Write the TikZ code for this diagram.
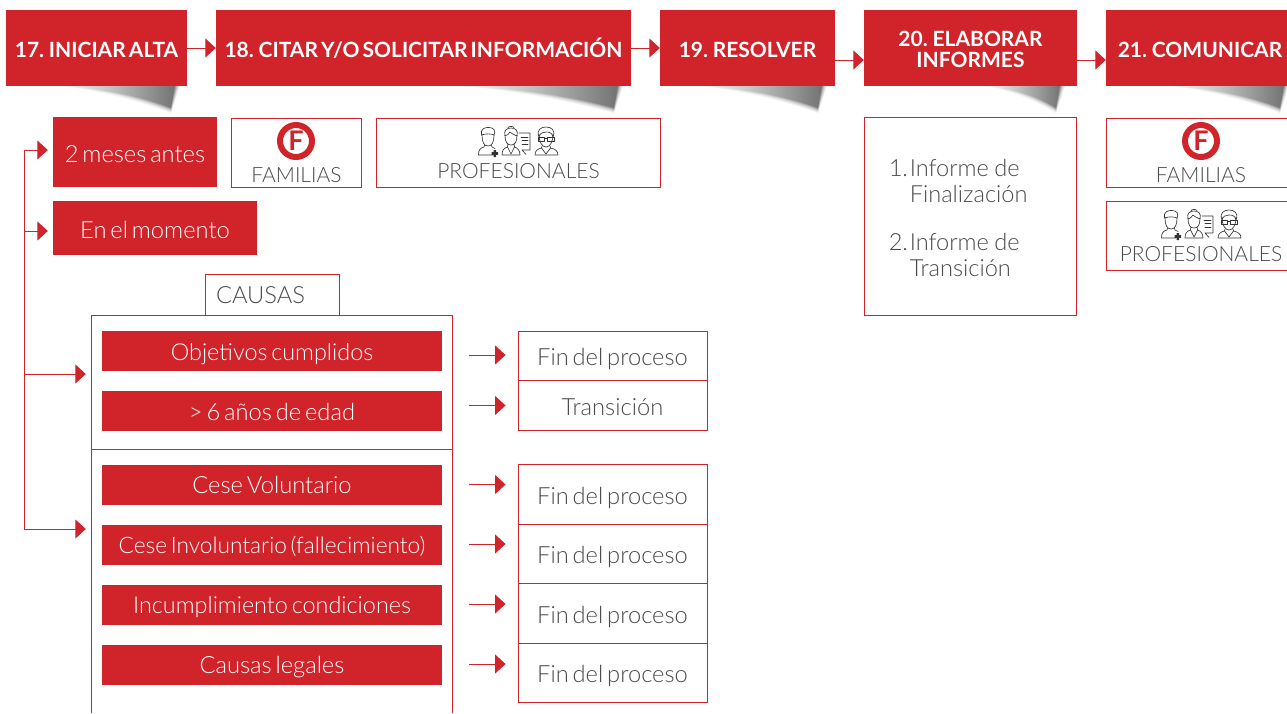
\documentclass[tikz,border=0pt]{standalone}
\usepackage{fontspec}
\setmainfont[WordSpace=0.6]{Lato}
\newfontfamily\lightf[WordSpace=0.6]{Lato Light}
\usetikzlibrary{arrows.meta}
\definecolor{rd}{HTML}{D1232A}
\definecolor{tx}{HTML}{4A4A4A}
\definecolor{ic}{HTML}{333333}
\newcommand\wedgeshadow[2]{%
  \foreach \e/\g/\m in {5/6/1,4/12/2,3/20/4,2/30/8,1/42/12,0/55/16}{%
    \shade[left color=white,middle color=black!\m,right color=black!\g]
      (#1,86) -- (#2+\e,86) -- (#2-4,108+\e)
      .. controls ({#2-0.35*(#2-#1)},{94+\e}) and ({#2-0.7*(#2-#1)},{88+0.5*\e}) .. (#1,86) -- cycle;}}
\newcommand\peopleicons[2]{%
 \begin{scope}[shift={(#1,#2)},draw=ic,line width=0.65pt,line join=round,line cap=round]
  % doctor with cross
  \draw (4,8) .. controls (4,15) and (6,19) .. (10,19) .. controls (14,19) and (16,15) .. (16,8);
  \draw (3.5,8) .. controls (2,2) and (7,0) .. (11,0.5) .. controls (16,0.5) and (18,4) .. (16,8) .. controls (13,6.5) and (8,6.5) .. (3.5,8);
  \draw (6.5,18) -- (6,20) .. controls (2,21) and (0.5,23) .. (0.5,28) -- (15,28);
  \draw (13.5,18) -- (14,20) -- (17,21.5);
  \fill[ic] (15.5,23) rectangle (18,30) (13.5,25.2) rectangle (20,27.8);
  % presenter with board
  \draw (27,8) .. controls (27,15) and (29,18) .. (33,18) .. controls (37,18) and (39,15) .. (39,8);
  \draw (27,9) .. controls (25.5,3) and (29,1) .. (33,1) .. controls (37,1) and (40.5,3) .. (39,9) .. controls (36,8) and (33,6) .. (32,5) .. controls (31,7) and (29,8.5) .. (27,9);
  \draw (30,0.8) .. controls (30,-1) and (36,-1) .. (36,0.8);
  \draw (30,17) -- (29.5,20) .. controls (26,21) and (24,23) .. (24,28) -- (42,28) .. controls (42,24) and (40,21) .. (36.5,20) -- (36,17);
  \draw (29.5,20) -- (33,27) -- (36.5,20);
  \draw (41,6) -- (52,6) -- (52,23) -- (44,23) (44,23) -- (48,27.5);
  \draw (43,10) -- (50,10) (44,13.5) -- (50,13.5) (44,17) -- (50,17);
  % man with glasses
  \draw (61,7) .. controls (61,15) and (64,20) .. (68,20) .. controls (72,20) and (75,15) .. (75,7);
  \draw (61,10) .. controls (58,3) and (63,0) .. (68,0) .. controls (73,0) and (78,3) .. (75,10) .. controls (74,6) and (72,5) .. (68,5) .. controls (65,5) and (62,6) .. (61,10);
  \draw (60,10.5) rectangle (66.5,14) (69.5,10.5) rectangle (76,14) (66.5,11.5) -- (69.5,11.5);
  \draw (64,19) -- (63.5,21) .. controls (59,22) and (57,24) .. (57,28) -- (80,28) .. controls (80,24) and (77,22) .. (72.5,21) -- (72,19);
  \draw (63.5,21) -- (68,27) -- (72.5,21);
 \end{scope}}
\begin{document}
\begin{tikzpicture}[x=1pt,y=-1pt,
 head/.style={fill=rd,text=white,font=\fontsize{21}{21}\selectfont\bfseries,align=center,inner sep=0pt,minimum height=76pt},
 oneline/.style={text height=19pt,text depth=0pt},
 redbox/.style={fill=rd,text=white,font=\lightf\fontsize{23.7}{26}\selectfont,inner sep=0pt,text height=20pt,text depth=2pt},
 wbox/.style={draw=rd,line width=0.9pt,fill=white,text=tx,font=\lightf\fontsize{23.7}{26}\selectfont,inner sep=0pt,text height=20pt,text depth=2pt},
 lowtext/.style={text height=20pt,text depth=0pt},
 lbl/.style={text=tx,font=\lightf\fontsize{21}{24}\selectfont,inner sep=0pt},
 famring/.style={circle,draw=rd,line width=6pt,minimum size=32pt,inner sep=0pt,text=rd,font=\fontsize{27}{27}\selectfont\bfseries},
 conn/.style={draw=rd,line width=1pt},
 arr/.style={draw=rd,line width=1pt,-{Triangle[length=10.5pt,width=19pt]}},
]
\useasboundingbox (0,0) rectangle (1287,713);
\clip (0,0) rectangle (1287,713);
% shadows
\wedgeshadow{60}{175}
\wedgeshadow{460}{618}
\wedgeshadow{700}{822}
\wedgeshadow{985}{1060}
\wedgeshadow{1170}{1284}
% header
\node[head,oneline,minimum width=181pt] (h17) at (96.5,48) {17. INICIAR ALTA};
\node[head,oneline,minimum width=415pt] (h18) at (423.5,48) {18. CITAR Y/O SOLICITAR INFORMACIÓN};
\node[head,oneline,minimum width=175pt] (h19) at (747.5,48) {19. RESOLVER};
\node[head,minimum width=213pt] (h20) at (970.5,48) {\rule{0pt}{17.2pt}20. ELABORAR\\INFORMES};
\node[head,oneline,minimum width=188pt] (h21) at (1200,48) {21. COMUNICAR};
\draw[arr] (h17) -- (h18);
\draw[arr] (h18) -- (h19);
\draw[arr] ([yshift=-12pt]h19.east) -- ([yshift=-12pt]h20.west);
\draw[arr] ([yshift=-12pt]h20.east) -- ([yshift=-12pt]h21.west);
% first row
\node[redbox,lowtext,minimum width=164pt,minimum height=70pt] (mes) at (135,152) {2 meses antes};
\node[redbox,lowtext,minimum width=204pt,minimum height=54pt] (mom) at (155,228) {En el momento};
\node[wbox,minimum width=130pt,minimum height=69pt] (fam) at (296.5,152.5) {};
\node[famring] (fic) at (296,141) {F};
\node[lbl] (famt) at (296.5,175) {FAMILIAS};
\node[wbox,minimum width=284.5pt,minimum height=69pt] (prof) at (518.5,152.5) {};
\node[lbl] (proft) at (518.5,171) {PROFESIONALES};
\peopleicons{478}{127}
% right column
\node[draw=rd,line width=0.9pt,fill=white,text=tx,font=\lightf\fontsize{23.6}{26}\selectfont,inner sep=0pt,minimum width=212.5pt,minimum height=197.5pt,text width=163pt,align=left] (inf) at (970.25,216.5)
 {\raisebox{-11pt}[0pt][0pt]{\begin{tabular}{@{}p{21pt}@{}l@{}}1.&Informe\kern-2.5pt{} de\\&Finalización\\[22pt]2.&Informe\kern-2.5pt{} de\\&Transición\end{tabular}}};
\node[wbox,minimum width=190pt,minimum height=69pt] (fam2) at (1201,152.5) {};
\node[famring] (fic2) at (1201,141) {F};
\node[lbl] (famt2) at (1201,175) {FAMILIAS};
\node[wbox,minimum width=190pt,minimum height=69pt] (prof2) at (1201,235.5) {};
\node[lbl] (proft2) at (1201,254) {PROFESIONALES};
\peopleicons{1161}{210}
% causas
\node[wbox,minimum width=134pt,minimum height=41pt,text width=112pt,align=left] (cau) at (272,294.5) {CAUSAS};
\node[wbox,minimum width=360.5pt,minimum height=134pt] (cup) at (272,382) {};
\coordinate (cll) at (cup.south west |- 0,713);
\coordinate (clr) at (cup.south east |- 0,713);
\draw[draw=rd,line width=0.9pt] (cup.south west) -- (cll) (cup.south east) -- (clr);
\node[redbox,minimum width=340pt,minimum height=40pt,font=\lightf\fontsize{23.4}{26}\selectfont] (r1) at (272,351) {Objetivos cumplidos};
\node[redbox,minimum width=340pt,minimum height=40pt] (r2) at (272,411) {> 6 años de edad};
\node[redbox,minimum width=340pt,minimum height=40pt] (r3) at (272,484.5) {Cese Voluntario};
\node[redbox,minimum width=340pt,minimum height=40pt,font=\lightf\fontsize{22.7}{26}\selectfont] (r4) at (272,544.5) {Cese Involuntario (fallecimiento)};
\node[redbox,minimum width=340pt,minimum height=40pt,font=\lightf\fontsize{23.4}{26}\selectfont] (r5) at (272,604.5) {Incumplimiento condiciones};
\node[redbox,minimum width=340pt,minimum height=40pt] (r6) at (272,664.5) {Causas legales};
% results
\node[wbox,lowtext,minimum width=189pt,minimum height=49.5pt] (w1) at (612.5,355.75) {Fin del proceso};
\node[wbox,lowtext,minimum width=189pt,minimum height=49.5pt] (w2) at (612.5,405.25) {Transición};
\node[wbox,lowtext,minimum width=189pt,minimum height=59.5pt] (w3) at (612.5,494.25) {Fin del proceso};
\node[wbox,lowtext,minimum width=189pt,minimum height=59.5pt] (w4) at (612.5,553.75) {Fin del proceso};
\node[wbox,lowtext,minimum width=189pt,minimum height=59.5pt] (w5) at (612.5,613.25) {Fin del proceso};
\node[wbox,lowtext,minimum width=189pt,minimum height=59.5pt] (w6) at (612.5,672.75) {Fin del proceso};
\foreach \a/\b/\y in {r1/w1/355,r2/w2/405.5,r3/w3/484.5,r4/w4/544,r5/w5/604,r6/w6/664}{
  \coordinate (ay) at (0,\y);
  \draw[arr,shorten <=27pt,shorten >=12pt] (\a.east |- ay) -- (\b.west |- ay);
}
% trunk
\coordinate (t1) at (24,150);
\coordinate (t2) at (24,231);
\coordinate (t3) at (24,374);
\coordinate (t4) at (24,529);
\draw[conn] (t1) -- (t4);
\draw[arr,shorten >=5pt] (t1) -- (mes.west |- t1);
\draw[arr,shorten >=5pt] (t2) -- (mom.west |- t2);
\draw[arr,shorten >=5.5pt] (t3) -- (cup.west |- t3);
\draw[arr,shorten >=5.5pt] (t4) -- (cll |- t4);
\end{tikzpicture}
\end{document}
